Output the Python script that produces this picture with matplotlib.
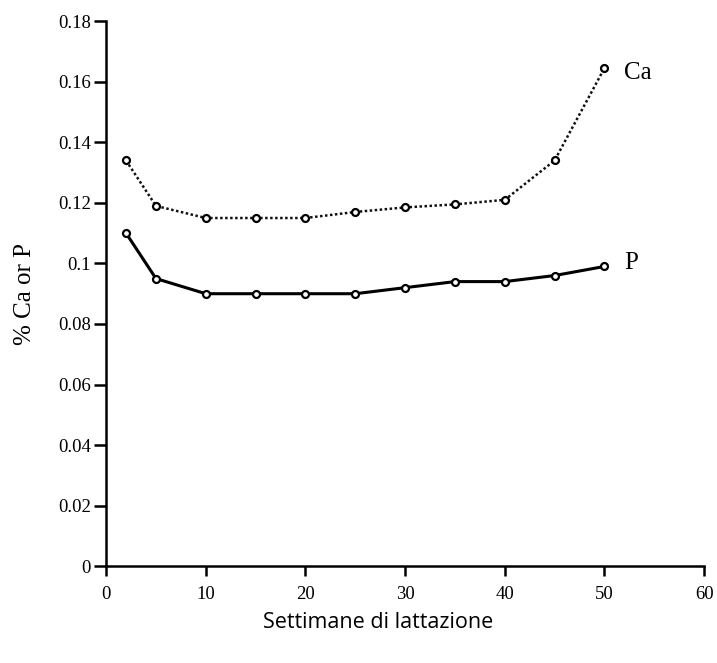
import matplotlib
matplotlib.use("Agg")
import matplotlib.pyplot as plt

weeks = [2, 5, 10, 15, 20, 25, 30, 35, 40, 45, 50]
ca = [0.134, 0.119, 0.115, 0.115, 0.115, 0.117, 0.1185, 0.1195, 0.121, 0.134, 0.1645]
p = [0.110, 0.095, 0.090, 0.090, 0.090, 0.090, 0.092, 0.094, 0.094, 0.096, 0.099]

xticks = [0, 10, 20, 30, 40, 50, 60]
yticks = [0, 0.02, 0.04, 0.06, 0.08, 0.1, 0.12, 0.14, 0.16, 0.18]
ytick_labels = ["0", "0.02", "0.04", "0.06", "0.08", "0.1", "0.12", "0.14", "0.16", "0.18"]

fig = plt.figure(figsize=(7.17, 6.63), dpi=100)
ax = fig.add_axes([0.148, 0.146, 0.834, 0.822])

ax.plot(weeks, ca, linestyle=(0, (1, 1)), color="#111111", linewidth=1.8,
        marker="o", markersize=5, markerfacecolor="white", markeredgecolor="black", markeredgewidth=1.6)
ax.plot(weeks, p, linestyle="-", color="black", linewidth=2.2,
        marker="o", markersize=5, markerfacecolor="white", markeredgecolor="black", markeredgewidth=1.6)

ax.text(weeks[-1] + 2.0, ca[-1] - 0.0015, "Ca", fontsize=18, family="Liberation Serif", va="center", ha="left")
ax.text(weeks[-1] + 2.0, p[-1] + 0.0012, "P", fontsize=18, family="Liberation Serif", va="center", ha="left")

ax.set_xlim(0, 60)
ax.set_ylim(0, 0.18)
ax.set_xticks(xticks)
ax.set_yticks(yticks)
ax.set_yticklabels(ytick_labels)
for lbl in ax.get_xticklabels() + ax.get_yticklabels():
    lbl.set_family("Liberation Serif")
    lbl.set_fontsize(13.5)
ax.tick_params(axis="y", direction="out", length=9, width=1.8, pad=2)
ax.tick_params(axis="x", direction="out", length=7, width=1.8, pad=7)

for s in ["top", "right"]:
    ax.spines[s].set_visible(False)
for s in ["left", "bottom"]:
    ax.spines[s].set_linewidth(1.8)

ax.set_ylabel("% Ca or P", family="Liberation Serif", fontsize=18)
ax.yaxis.set_label_coords(-0.135, 0.5)
ax.set_xlabel("Settimane di lattazione", family="Open Sans", fontsize=15.5)
ax.xaxis.set_label_coords(0.455, -0.103)
ax.xaxis.label.set_va("center")
ax.yaxis.label.set_va("center")

fig.savefig("out.png", dpi=100, facecolor="white")
